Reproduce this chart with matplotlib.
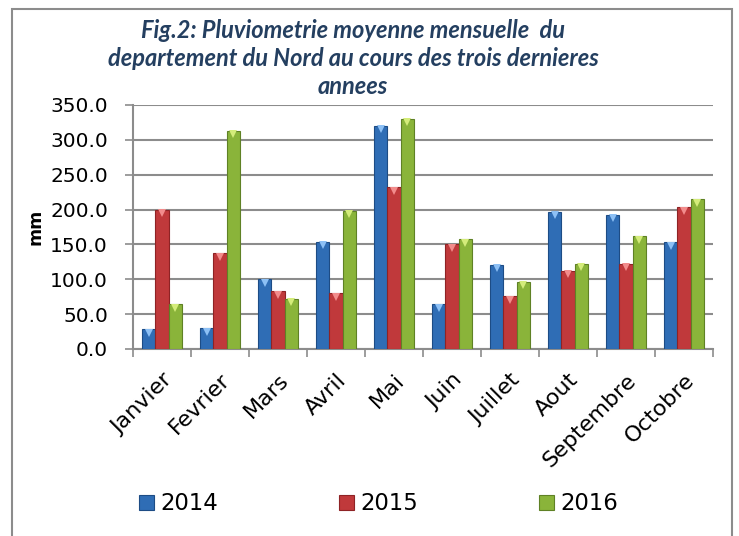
import numpy as np
from matplotlib import pyplot as plt
from matplotlib.patches import Rectangle

mois = ['Janvier', 'Fevrier', 'Mars', 'Avril', 'Mai', 'Juin', 'Juillet',
        'Aout', 'Septembre', 'Octobre']
pluie_2014 = [28.5, 29.5, 100.0, 153.5, 320.5, 64.0, 120.5, 196.5, 192.5, 153.0]
pluie_2015 = [200.0, 137.5, 83.0, 80.0, 232.0, 150.0, 76.0, 112.0, 122.0, 203.0]
pluie_2016 = [64.0, 313.0, 72.0, 198.5, 330.0, 157.5, 96.5, 122.0, 162.0, 214.5]
annees = ['2014', '2015', '2016']

plt.rcParams['font.family'] = ['DejaVu Sans']

couleurs = ['#2F6DB5', '#C0393B', '#8AB43A']
bords = ['#1D4C85', '#8E2325', '#5F8125']
pointes = ['#8DC0F5', '#F28C8C', '#D4EC7A']

fig = plt.figure(figsize=(7.39, 5.36), dpi=100)
fig.patches.append(Rectangle((12/739, -0.1), 720/739, 1.1 - 9/536,
                             transform=fig.transFigure, fill=False,
                             edgecolor='#8C8C8C', linewidth=1.5))

ax = fig.add_axes([133/739, (536-349)/536, 580/739, 244/536])
x = np.arange(len(mois))
w = 0.23
for k, serie in enumerate([pluie_2014, pluie_2015, pluie_2016]):
    pos = x + (k - 1) * w
    ax.bar(pos, serie, w, color=couleurs[k], edgecolor=bords[k],
           linewidth=0.8, label=annees[k], zorder=3)
    ax.plot(pos, np.array(serie) - 5, 'v', color=pointes[k], markersize=6,
            markeredgewidth=0, zorder=4)

ax.set_xlim(-0.5, len(mois) - 0.5)
ax.set_ylim(0, 350)
ax.set_yticks(np.arange(0, 351, 50))
ax.set_yticklabels(['%.1f' % v for v in np.arange(0, 351, 50)], fontsize=14.5)
ax.yaxis.grid(True, color='#8C8C8C', linewidth=1.5, zorder=0)
ax.tick_params(axis='y', length=6, width=1.2, color='#8C8C8C', pad=12)

ax.set_xticks(x)
ax.set_xticklabels(mois, rotation=45, ha='right', rotation_mode='anchor',
                   fontsize=16)
ax.tick_params(axis='x', length=0, pad=15)
ax.set_xticks(np.arange(-0.5, len(mois)), minor=True)
ax.tick_params(axis='x', which='minor', length=6, width=1.2, color='#8C8C8C')

for s in ['top', 'right']:
    ax.spines[s].set_visible(False)
for s in ['left', 'bottom']:
    ax.spines[s].set_color('#8C8C8C')
    ax.spines[s].set_linewidth(1.5)

ax.set_ylabel('mm', fontsize=12.5, fontweight='bold')
ax.yaxis.set_label_coords((45 - 133) / 580, 0.5)

titre = ['Fig.2: Pluviometrie moyenne mensuelle  du',
         'departement du Nord au cours des trois dernieres',
         'annees']
for i, ligne in enumerate(titre):
    fig.text(0.478, 1 - (31 + 27.5 * i) / 536, ligne, ha='center', va='center',
             fontsize=17, fontweight='bold', style='italic', color='#243F60',
             family=['Lato', 'DejaVu Sans'])

fig.legend(loc='center', bbox_to_anchor=(0.512, 1 - 504/536), ncol=3,
           frameon=False, fontsize=16.4, handlelength=0.66, handleheight=0.66,
           handletextpad=0.28, columnspacing=5.3)

plt.savefig('out.png', dpi=100)
